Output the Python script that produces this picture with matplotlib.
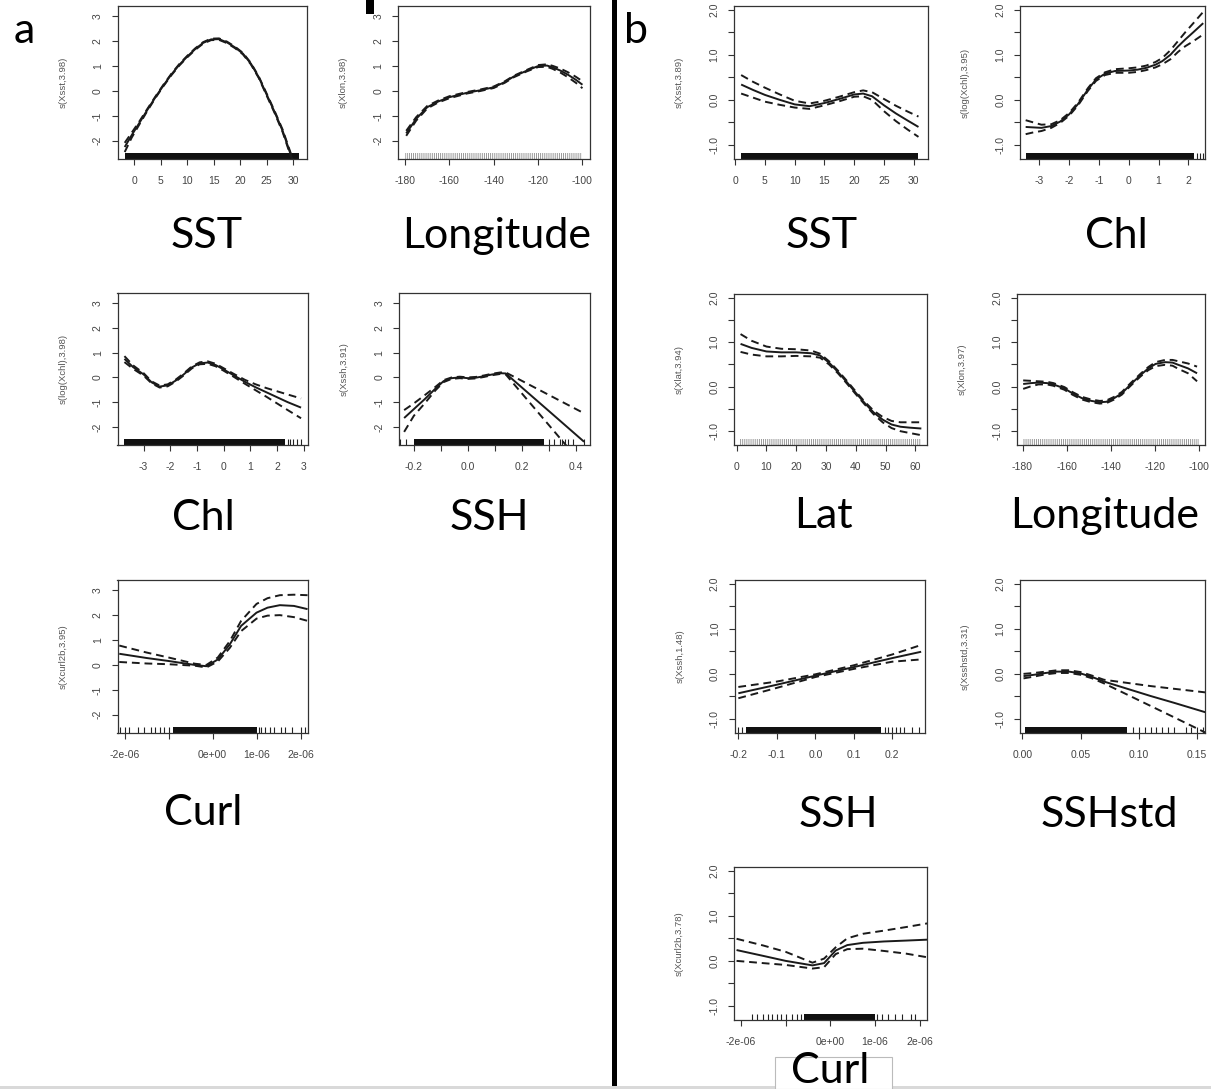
"""GAM partial-effect panels (a: 5 terms, b: 7 terms) with rugs and CI bands."""
import matplotlib
matplotlib.use("Agg")
import matplotlib.pyplot as plt
from matplotlib.patches import Rectangle

W, H = 1211, 1089
LINE = "#1a1a1a"
TICK_TXT = "#444444"
plt.rcParams["hatch.linewidth"] = 0.6
plt.rcParams["font.family"] = ["Liberation Sans", "DejaVu Sans"]

# ---------------- panel a ----------------
a_sst_x = [-1.8, -0.5, 1, 2.5, 4, 5.5, 7, 8.5, 10, 11.5, 13, 14.5, 16, 17.5, 19, 20.5, 22, 23.5, 25, 26.5, 28, 29.6, 31]
a_sst_fit = [-2.25, -1.78, -1.27, -0.75, -0.25, 0.22, 0.66, 1.05, 1.38, 1.68, 1.93, 2.07, 2.08, 1.95, 1.75, 1.5, 1.1, 0.55, -0.15, -0.85, -1.6, -2.6, -3.5]
a_sst_up = [-2.08, -1.68, -1.21, -0.71, -0.22, 0.25, 0.69, 1.08, 1.41, 1.71, 1.96, 2.1, 2.11, 1.98, 1.78, 1.53, 1.13, 0.58, -0.11, -0.81, -1.55, -2.54, -3.42]
a_sst_lo = [-2.45, -1.88, -1.33, -0.79, -0.28, 0.19, 0.63, 1.02, 1.35, 1.65, 1.9, 2.04, 2.05, 1.92, 1.72, 1.47, 1.07, 0.52, -0.19, -0.89, -1.65, -2.66, -3.58]

a_lon_x = [-179.5, -175, -170, -165, -160, -152, -146, -140, -135, -131, -125, -120, -116, -113.5, -110, -106.5, -103, -100]
a_lon_fit = [-1.7, -1.12, -0.65, -0.42, -0.25, -0.07, 0.03, 0.15, 0.36, 0.58, 0.82, 1.0, 1.02, 0.95, 0.82, 0.65, 0.45, 0.25]
a_lon_up = [-1.6, -1.05, -0.6, -0.38, -0.21, -0.04, 0.06, 0.18, 0.39, 0.61, 0.85, 1.04, 1.07, 1.01, 0.9, 0.75, 0.57, 0.39]
a_lon_lo = [-1.8, -1.19, -0.7, -0.46, -0.29, -0.1, 0.0, 0.12, 0.33, 0.55, 0.79, 0.96, 0.97, 0.89, 0.74, 0.55, 0.33, 0.11]

a_chl_x = [-3.72, -3.4, -3.0, -2.7, -2.4, -2.1, -1.8, -1.5, -1.2, -0.9, -0.6, -0.3, 0, 0.4, 0.8, 1.2, 1.6, 2.0, 2.4, 2.9]
a_chl_fit = [0.75, 0.42, 0.12, -0.2, -0.37, -0.32, -0.13, 0.12, 0.4, 0.57, 0.6, 0.5, 0.32, 0.07, -0.18, -0.4, -0.6, -0.8, -1.0, -1.22]
a_chl_up = [0.86, 0.49, 0.17, -0.16, -0.33, -0.28, -0.09, 0.16, 0.44, 0.61, 0.65, 0.55, 0.37, 0.13, -0.1, -0.28, -0.43, -0.56, -0.69, -0.85]
a_chl_lo = [0.62, 0.35, 0.07, -0.24, -0.41, -0.36, -0.17, 0.08, 0.36, 0.53, 0.55, 0.45, 0.27, 0.01, -0.26, -0.52, -0.78, -1.05, -1.32, -1.65]

a_ssh_x = [-0.236, -0.2, -0.16, -0.12, -0.09, -0.06, -0.03, 0.0, 0.03, 0.06, 0.09, 0.12, 0.14, 0.2, 0.3, 0.43]
a_ssh_fit = [-1.64, -1.28, -0.88, -0.45, -0.15, -0.03, 0.0, -0.03, -0.01, 0.05, 0.12, 0.17, 0.16, -0.41, -1.36, -2.6]
a_ssh_up = [-1.32, -1.05, -0.72, -0.38, -0.11, 0.0, 0.03, 0.0, 0.02, 0.08, 0.15, 0.2, 0.2, -0.14, -0.71, -1.45]
a_ssh_lo = [-2.2, -1.55, -1.05, -0.52, -0.19, -0.06, -0.03, -0.06, -0.04, 0.02, 0.09, 0.14, 0.12, -0.65, -1.93, -3.6]

a_curl_x = [-2.12e-6, -1.5e-6, -1.0e-6, -0.4e-6, -0.14e-6, 0.12e-6, 0.39e-6, 0.65e-6, 1.0e-6, 1.25e-6, 1.53e-6, 1.85e-6, 2.16e-6]
a_curl_fit = [0.45, 0.28, 0.16, 0.0, -0.05, 0.22, 0.82, 1.57, 2.1, 2.3, 2.4, 2.37, 2.24]
a_curl_up = [0.78, 0.5, 0.3, 0.05, 0.0, 0.3, 0.95, 1.77, 2.45, 2.68, 2.8, 2.82, 2.8]
a_curl_lo = [0.12, 0.06, 0.03, -0.03, -0.1, 0.14, 0.68, 1.36, 1.86, 1.98, 2.0, 1.92, 1.77]

# ---------------- panel b ----------------
b_sst_x = [1, 3, 5, 7.5, 10, 12.5, 15, 17.5, 20, 21.5, 23, 25, 27, 29, 30.8]
b_sst_fit = [0.34, 0.22, 0.11, 0.0, -0.1, -0.14, -0.07, 0.02, 0.12, 0.14, 0.08, -0.12, -0.3, -0.46, -0.6]
b_sst_up = [0.55, 0.4, 0.27, 0.12, -0.02, -0.08, -0.02, 0.07, 0.17, 0.21, 0.17, 0.02, -0.13, -0.26, -0.37]
b_sst_lo = [0.14, 0.05, -0.04, -0.11, -0.17, -0.2, -0.12, -0.03, 0.07, 0.08, 0.0, -0.25, -0.47, -0.66, -0.82]

b_chl_x = [-3.46, -3.2, -2.93, -2.6, -2.3, -2.0, -1.7, -1.37, -1.1, -0.8, -0.46, 0, 0.3, 0.59, 0.9, 1.13, 1.4, 1.65, 1.9, 2.17, 2.5]
b_chl_fit = [-0.6, -0.61, -0.62, -0.58, -0.48, -0.32, -0.09, 0.23, 0.45, 0.58, 0.64, 0.65, 0.67, 0.71, 0.78, 0.86, 1.0, 1.18, 1.34, 1.5, 1.7]
b_chl_up = [-0.45, -0.5, -0.55, -0.54, -0.45, -0.29, -0.06, 0.26, 0.48, 0.61, 0.68, 0.7, 0.72, 0.76, 0.84, 0.93, 1.1, 1.3, 1.5, 1.7, 1.95]
b_chl_lo = [-0.76, -0.72, -0.69, -0.62, -0.51, -0.35, -0.12, 0.2, 0.42, 0.55, 0.6, 0.6, 0.62, 0.66, 0.72, 0.79, 0.9, 1.06, 1.19, 1.3, 1.45]

b_lat_x = [1.3, 5, 10, 15, 20, 25, 28, 31, 34, 37, 40, 43, 46, 49, 52, 55, 58, 62]
b_lat_fit = [0.96, 0.87, 0.79, 0.77, 0.77, 0.75, 0.7, 0.54, 0.33, 0.1, -0.14, -0.37, -0.58, -0.74, -0.85, -0.9, -0.92, -0.94]
b_lat_up = [1.18, 1.03, 0.9, 0.85, 0.84, 0.81, 0.74, 0.57, 0.36, 0.13, -0.11, -0.34, -0.54, -0.68, -0.77, -0.8, -0.8, -0.8]
b_lat_lo = [0.78, 0.72, 0.68, 0.68, 0.69, 0.68, 0.65, 0.5, 0.3, 0.07, -0.17, -0.4, -0.62, -0.8, -0.93, -1.0, -1.04, -1.09]

b_lon_x = [-179.7, -176, -172.8, -169, -166, -161, -157.4, -153, -148.8, -145, -142, -138.5, -135, -131, -126.5, -123, -119.7, -115.4, -112, -109.4, -105, -100.9]
b_lon_fit = [0.06, 0.08, 0.09, 0.08, 0.05, -0.04, -0.15, -0.26, -0.32, -0.35, -0.34, -0.26, -0.15, 0.05, 0.26, 0.41, 0.51, 0.55, 0.54, 0.49, 0.41, 0.3]
b_lon_up = [0.14, 0.13, 0.12, 0.11, 0.08, -0.01, -0.12, -0.23, -0.29, -0.32, -0.31, -0.23, -0.12, 0.08, 0.29, 0.44, 0.55, 0.6, 0.6, 0.57, 0.52, 0.45]
b_lon_lo = [-0.05, 0.01, 0.05, 0.05, 0.02, -0.07, -0.18, -0.29, -0.35, -0.38, -0.37, -0.29, -0.18, 0.02, 0.23, 0.37, 0.46, 0.49, 0.47, 0.4, 0.3, 0.12]

b_ssh_x = [-0.2, -0.1, 0.0, 0.1, 0.2, 0.275]
b_ssh_fit = [-0.43, -0.24, -0.04, 0.15, 0.35, 0.49]
b_ssh_up = [-0.29, -0.17, -0.01, 0.19, 0.43, 0.64]
b_ssh_lo = [-0.54, -0.31, -0.07, 0.11, 0.27, 0.32]

b_sshstd_x = [0.001, 0.01, 0.02, 0.03, 0.04, 0.05, 0.06, 0.07, 0.09, 0.11, 0.13, 0.157]
b_sshstd_fit = [-0.05, -0.02, 0.02, 0.05, 0.05, 0.01, -0.07, -0.17, -0.33, -0.49, -0.64, -0.85]
b_sshstd_up = [0.0, 0.02, 0.05, 0.08, 0.08, 0.04, -0.04, -0.13, -0.2, -0.27, -0.33, -0.41]
b_sshstd_lo = [-0.1, -0.06, -0.01, 0.02, 0.02, -0.02, -0.1, -0.21, -0.46, -0.71, -0.96, -1.3]

b_curl_x = [-2.1e-6, -1.5e-6, -1.0e-6, -0.4e-6, -0.14e-6, 0.12e-6, 0.38e-6, 0.73e-6, 1.2e-6, 1.7e-6, 2.17e-6]
b_curl_fit = [0.24, 0.11, 0.0, -0.1, -0.05, 0.23, 0.35, 0.4, 0.43, 0.45, 0.47]
b_curl_up = [0.49, 0.34, 0.2, -0.04, 0.05, 0.3, 0.5, 0.6, 0.67, 0.75, 0.83]
b_curl_lo = [0.0, -0.05, -0.09, -0.17, -0.14, 0.15, 0.26, 0.27, 0.22, 0.16, 0.08]

# rugs: dense spans, isolated ticks, regular-grid spans (drawn hatched grey)
a_sst_rug_dense = [(-1.8, 31.0)]
a_chl_rug_dense = [(-3.72, 2.3)]
a_chl_rug_ticks = [2.4, 2.5, 2.6, 2.75, 2.9]
a_ssh_rug_dense = [(-0.2, 0.28)]
a_ssh_rug_ticks = [-0.25, -0.23, 0.3, 0.32, 0.34, 0.35, 0.36, 0.37, 0.39, 0.43]
a_curl_rug_dense = [(-0.9e-6, 1.0e-6)]
a_curl_rug_ticks = [-2.1e-6, -2.0e-6, -1.9e-6, -1.7e-6, -1.55e-6, -1.4e-6, -1.3e-6, -1.2e-6, -1.1e-6, -1.0e-6,
                    1.05e-6, 1.1e-6, 1.2e-6, 1.3e-6, 1.4e-6, 1.55e-6, 1.65e-6, 1.8e-6, 2.0e-6, 2.1e-6]
a_lon_rug_grid = [(-180, -100)]
b_sst_rug_dense = [(1.0, 30.8)]
b_chl_rug_dense = [(-3.46, 2.2)]
b_chl_rug_ticks = [2.3, 2.4, 2.5]
b_lat_rug_grid = [(1, 62)]
b_lon_rug_grid = [(-180, -100)]
b_ssh_rug_dense = [(-0.18, 0.17)]
b_ssh_rug_ticks = [-0.2, -0.19, 0.18, 0.19, 0.2, 0.21, 0.22, 0.23, 0.25, 0.27]
b_sshstd_rug_dense = [(0.002, 0.09)]
b_sshstd_rug_ticks = [0.095, 0.1, 0.105, 0.11, 0.115, 0.12, 0.125, 0.13, 0.14, 0.145, 0.15, 0.155]
b_curl_rug_dense = [(-0.6e-6, 1.0e-6)]
b_curl_rug_ticks = [-1.75e-6, -1.65e-6, -1.5e-6, -1.4e-6, -1.3e-6, -1.2e-6, -1.1e-6, -1.0e-6, -0.85e-6, -0.75e-6, -0.65e-6,
                    1.05e-6, 1.15e-6, 1.3e-6, 1.45e-6, 1.6e-6, 1.8e-6, 1.9e-6]

# axis ticks
a_yticks = [-2, -1, 0, 1, 2, 3]
a_ylabels = ["-2", "-1", "0", "1", "2", "3"]
b_yticks = [-1.0, -0.5, 0.0, 0.5, 1.0, 1.5, 2.0]
b_ylabels = ["-1.0", "", "0.0", "", "1.0", "", "2.0"]
sst_ticks = [0, 5, 10, 15, 20, 25, 30]
lon_ticks = [-180, -160, -140, -120, -100]
chl_a_ticks = [-3, -2, -1, 0, 1, 2, 3]
chl_b_ticks = [-3, -2, -1, 0, 1, 2]
ssh_a_ticks = [-0.2, -0.1, 0.0, 0.1, 0.2, 0.3, 0.4]
ssh_a_labels = ["-0.2", "", "0.0", "", "0.2", "", "0.4"]
ssh_b_ticks = [-0.2, -0.1, 0.0, 0.1, 0.2]
ssh_b_labels = ["-0.2", "-0.1", "0.0", "0.1", "0.2"]
lat_ticks = [0, 10, 20, 30, 40, 50, 60]
sshstd_ticks = [0.0, 0.05, 0.10, 0.15]
sshstd_labels = ["0.00", "0.05", "0.10", "0.15"]
curl_ticks = [-2e-6, -1e-6, 0.0, 1e-6, 2e-6]
curl_labels = ["-2e-06", "", "0e+00", "1e-06", "2e-06"]


def px_rect(l, r, t, b):
    return [l / W, 1 - b / H, (r - l) / W, (b - t) / H]


def gam_panel(fig, box, x, fit, up, lo, xlim, ylim, xticks, xlabels, yticks, ylabels, ylab,
              dense=(), ticks=(), grid=()):
    ax = fig.add_axes(px_rect(*box))
    ax.plot(x, fit, color=LINE, lw=1.4, solid_capstyle="butt")
    ax.plot(x, up, color=LINE, lw=1.4, ls=(0, (4, 2.5)))
    ax.plot(x, lo, color=LINE, lw=1.4, ls=(0, (4, 2.5)))
    trans = ax.get_xaxis_transform()
    for x0, x1 in dense:
        ax.fill_between([x0, x1], 0, 0.04, transform=trans, color="#111111", lw=0)
    if len(ticks):
        ax.vlines(ticks, 0, 0.04, transform=trans, color="#222222", lw=0.8)
    for x0, x1 in grid:
        ax.fill_between([x0, x1], 0, 0.04, transform=trans, facecolor="none",
                        edgecolor="#8a8a8a", hatch="|" * 8, lw=0)
    ax.set_xlim(*xlim)
    ax.set_ylim(*ylim)
    ax.set_xticks(xticks, xlabels)
    ax.set_yticks(yticks, ylabels)
    ax.tick_params(direction="out", length=4.5, width=0.8, color="#333333",
                   labelsize=7.5, labelcolor=TICK_TXT)
    ax.tick_params(axis="x", pad=8)
    ax.tick_params(axis="y", pad=6, labelrotation=90)
    for lab in ax.get_yticklabels():
        lab.set_verticalalignment("center")
    for sp in ax.spines.values():
        sp.set_linewidth(0.9)
        sp.set_color("#333333")
    width_px = box[1] - box[0]
    ax.set_ylabel(ylab, fontsize=6.8, color="#555555")
    ax.yaxis.set_label_coords(-50 / width_px, 0.5)
    return ax


fig = plt.figure(figsize=(W / 100, H / 100), dpi=100)
fig.patch.set_facecolor("white")

a_ylim = (-2.73, 3.41)
b_ylim = (-1.31, 2.08)

gam_panel(fig, (117.5, 307, 6, 159), a_sst_x, a_sst_fit, a_sst_up, a_sst_lo, (-3.16, 32.6), a_ylim,
          sst_ticks, [str(t) for t in sst_ticks], a_yticks, a_ylabels, "s(Xsst,3.98)", dense=a_sst_rug_dense)
gam_panel(fig, (398, 590, 6, 159), a_lon_x, a_lon_fit, a_lon_up, a_lon_lo, (-183.2, -96.6), a_ylim,
          lon_ticks, [str(t) for t in lon_ticks], a_yticks, a_ylabels, "s(Xlon,3.98)", grid=a_lon_rug_grid)
gam_panel(fig, (117.5, 308, 293, 445), a_chl_x, a_chl_fit, a_chl_up, a_chl_lo, (-3.98, 3.16), a_ylim,
          chl_a_ticks, [str(t) for t in chl_a_ticks], a_yticks, a_ylabels, "s(log(Xchl),3.98)",
          dense=a_chl_rug_dense, ticks=a_chl_rug_ticks)
gam_panel(fig, (399, 589.5, 293, 445), a_ssh_x, a_ssh_fit, a_ssh_up, a_ssh_lo, (-0.255, 0.45), a_ylim,
          ssh_a_ticks, ssh_a_labels, a_yticks, a_ylabels, "s(Xssh,3.91)",
          dense=a_ssh_rug_dense, ticks=a_ssh_rug_ticks)
gam_panel(fig, (117.5, 308, 580, 733), a_curl_x, a_curl_fit, a_curl_up, a_curl_lo, (-2.16e-6, 2.17e-6), a_ylim,
          curl_ticks, curl_labels, a_yticks, a_ylabels, "s(Xcurl2b,3.95)",
          dense=a_curl_rug_dense, ticks=a_curl_rug_ticks)

gam_panel(fig, (734, 928, 6, 159), b_sst_x, b_sst_fit, b_sst_up, b_sst_lo, (-0.2, 32.4), b_ylim,
          sst_ticks, [str(t) for t in sst_ticks], b_yticks, b_ylabels, "s(Xsst,3.89)", dense=b_sst_rug_dense)
gam_panel(fig, (1020, 1205, 6, 159), b_chl_x, b_chl_fit, b_chl_up, b_chl_lo, (-3.65, 2.56), b_ylim,
          chl_b_ticks, [str(t) for t in chl_b_ticks], b_yticks, b_ylabels, "s(log(Xchl),3.95)",
          dense=b_chl_rug_dense, ticks=b_chl_rug_ticks)
gam_panel(fig, (734, 927, 294, 445), b_lat_x, b_lat_fit, b_lat_up, b_lat_lo, (-0.9, 63.9), b_ylim,
          lat_ticks, [str(t) for t in lat_ticks], b_yticks, b_ylabels, "s(Xlat,3.94)", grid=b_lat_rug_grid)
gam_panel(fig, (1017, 1205, 294, 445), b_lon_x, b_lon_fit, b_lon_up, b_lon_lo, (-182.5, -97.3), b_ylim,
          lon_ticks, [str(t) for t in lon_ticks], b_yticks, b_ylabels, "s(Xlon,3.97)", grid=b_lon_rug_grid)
gam_panel(fig, (734.5, 925, 580, 733), b_ssh_x, b_ssh_fit, b_ssh_up, b_ssh_lo, (-0.21, 0.285), b_ylim,
          ssh_b_ticks, ssh_b_labels, b_yticks, b_ylabels, "s(Xssh,1.48)",
          dense=b_ssh_rug_dense, ticks=b_ssh_rug_ticks)
gam_panel(fig, (1020, 1205, 580, 733), b_sshstd_x, b_sshstd_fit, b_sshstd_up, b_sshstd_lo, (-0.002, 0.1567), b_ylim,
          sshstd_ticks, sshstd_labels, b_yticks, b_ylabels, "s(Xsshstd,3.31)",
          dense=b_sshstd_rug_dense, ticks=b_sshstd_rug_ticks)
gam_panel(fig, (734, 927, 867, 1020), b_curl_x, b_curl_fit, b_curl_up, b_curl_lo, (-2.157e-6, 2.165e-6), b_ylim,
          curl_ticks, curl_labels, b_yticks, b_ylabels, "s(Xcurl2b,3.78)",
          dense=b_curl_rug_dense, ticks=b_curl_rug_ticks)

# variable names under each panel
LABEL_FONT = ["Lato", "DejaVu Sans"]
names = [("SST", 207, 248), ("Longitude", 497, 248), ("Chl", 203, 530), ("SSH", 489, 530),
         ("Curl", 203, 825), ("SST", 822, 248), ("Chl", 1116, 248), ("Lat", 823, 528),
         ("Longitude", 1105, 528), ("SSH", 838, 827), ("SSHstd", 1109, 827)]
for txt, cx, base in names:
    fig.text(cx / W, 1 - base / H, txt, ha="center", va="baseline", fontsize=31, family=LABEL_FONT)

# boxed "Curl" label of panel b
fig.patches.append(Rectangle((775 / W, 1 - 1089 / H), 117 / W, 32 / H, transform=fig.transFigure,
                             facecolor="white", edgecolor="#bbbbbb", lw=0.8, zorder=2))
fig.text(830 / W, 1 - 1083 / H, "Curl", ha="center", va="baseline", fontsize=31, family=LABEL_FONT, zorder=3)

# panel letters
fig.text(14 / W, 1 - 43 / H, "a", ha="left", va="baseline", fontsize=31, family=LABEL_FONT)
fig.text(624 / W, 1 - 43 / H, "b", ha="left", va="baseline", fontsize=31, family=LABEL_FONT)

# divider between panels, cropped mark at top, grey strip at bottom
fig.patches.append(Rectangle((612 / W, 0), 5 / W, 1, transform=fig.transFigure, facecolor="black", lw=0))
fig.patches.append(Rectangle((366 / W, 1 - 14 / H), 8 / W, 14 / H, transform=fig.transFigure,
                             facecolor="black", lw=0))
fig.patches.append(Rectangle((0, 0), 1, 3 / H, transform=fig.transFigure, facecolor="#d9d9d9", lw=0))

fig.savefig("out.png", dpi=100, facecolor="white")
